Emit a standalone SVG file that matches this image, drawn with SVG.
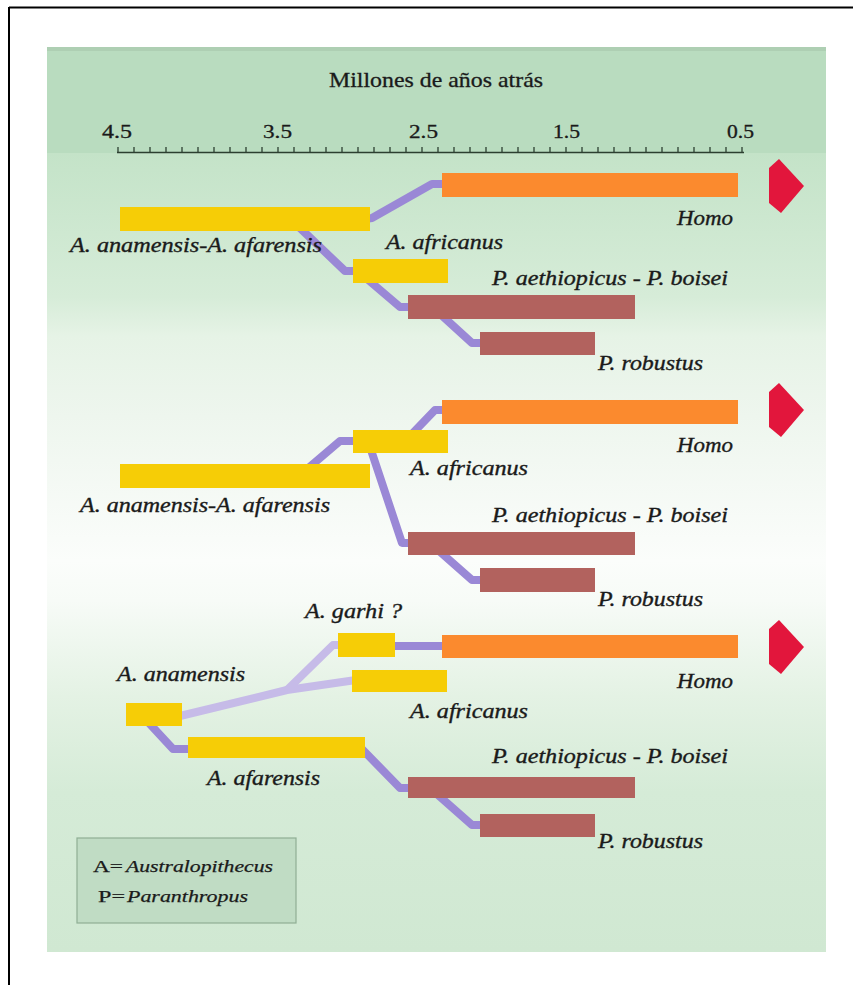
<svg xmlns="http://www.w3.org/2000/svg" width="853" height="985" viewBox="0 0 853 985">
<defs>
<linearGradient id="bodyGrad" gradientUnits="userSpaceOnUse" x1="0" y1="153" x2="0" y2="952">
<stop offset="0" stop-color="#c4e3c8"/>
<stop offset="0.18" stop-color="#d6ecd8"/>
<stop offset="0.23" stop-color="#e6f3e6"/>
<stop offset="0.33" stop-color="#eef6ee"/>
<stop offset="0.51" stop-color="#fbfdfb"/>
<stop offset="0.56" stop-color="#f7fbf7"/>
<stop offset="0.68" stop-color="#e4f2e4"/>
<stop offset="0.8" stop-color="#d5ebd7"/>
<stop offset="1" stop-color="#d0e8d2"/>
</linearGradient>
</defs>
<style>
.lbl{font-family:"Liberation Serif","Times New Roman",serif;font-style:italic;font-size:20px;fill:#1a1a1a;stroke:#1a1a1a;stroke-width:0.35px;}
.ax{font-family:"Liberation Serif","Times New Roman",serif;font-size:18px;fill:#1a1a1a;stroke:#1a1a1a;stroke-width:0.3px;}
.leg{font-family:"Liberation Serif","Times New Roman",serif;font-size:17px;fill:#1a1a1a;stroke:#1a1a1a;stroke-width:0.25px;}
.yel{fill:#f6cd06;}
.ora{fill:#fb8a2e;}
.bro{fill:#b2625e;}
.arr{fill:#e2163c;}
.con{fill:none;stroke:#9a88d6;stroke-width:8;stroke-linejoin:round;}
.conl{fill:none;stroke:#c6bbe8;stroke-width:8;stroke-linejoin:round;}
</style>
<rect x="0" y="0" width="853" height="985" fill="#ffffff"/>
<line x1="9" y1="7.5" x2="853" y2="7.5" stroke="#000" stroke-width="2"/>
<line x1="9" y1="7" x2="9" y2="985" stroke="#000" stroke-width="2"/>
<rect x="47" y="153" width="779" height="799" fill="url(#bodyGrad)"/>
<rect x="47" y="47" width="779" height="106" fill="#b9dcbf"/>
<rect x="47" y="47" width="779" height="4" fill="#aecfb3"/>

<g id="axis">
<text x="329" y="87" class="ax" style="font-size:21px" textLength="214" lengthAdjust="spacingAndGlyphs">Millones de años atrás</text>
<text x="102" y="138" class="ax" textLength="30" lengthAdjust="spacingAndGlyphs">4.5</text>
<text x="263" y="138" class="ax" textLength="29" lengthAdjust="spacingAndGlyphs">3.5</text>
<text x="409" y="138" class="ax" textLength="29" lengthAdjust="spacingAndGlyphs">2.5</text>
<text x="553" y="138" class="ax" textLength="27" lengthAdjust="spacingAndGlyphs">1.5</text>
<text x="727" y="138" class="ax" textLength="27" lengthAdjust="spacingAndGlyphs">0.5</text>
<line x1="117" y1="152.5" x2="744" y2="152.5" stroke="#2c3f30" stroke-width="1.5"/>
<path d="M118,147v5M134,147v5M150,147v5M166,147v5M182,147v5M198,147v5M214,147v5M230,147v5M246,147v5M262,147v5M278,147v5M294,147v5M310,147v5M326,147v5M342,147v5M358,147v5M374,147v5M390,147v5M406,147v5M422,147v5M438,147v5M454,147v5M470,147v5M486,147v5M502,147v5M518,147v5M534,147v5M550,147v5M566,147v5M582,147v5M598,147v5M614,147v5M630,147v5M646,147v5M662,147v5M678,147v5M694,147v5M710,147v5M726,147v5M742,147v5" stroke="#2c3f30" stroke-width="1.3"/>
</g>

<g id="connectors">
<path class="con" d="M365,219 L372,218 L432,184 L446,184"/>
<path class="con" d="M300,228 L345,271 L357,271"/>
<path class="con" d="M366,278 L400,307 L412,307"/>
<path class="con" d="M438,312 L472,343 L484,343"/>
<path class="con" d="M306,470 L340,441 L357,441"/>
<path class="con" d="M410,436 L435,410 L446,410"/>
<path class="con" d="M370,447 L402,543 L412,543"/>
<path class="con" d="M438,550 L472,580 L484,580"/>
<path class="conl" d="M180,716 L287,690 L356,680"/>
<path class="conl" d="M287,690 L333,645 L342,645"/>
<path class="con" d="M390,646 L446,646"/>
<path class="con" d="M148,722 L173,749 L192,749"/>
<path class="con" d="M360,747 L400,788 L412,788"/>
<path class="con" d="M438,795 L472,825 L484,825"/>
</g>

<g id="p1-afarensis">
<rect class="yel" x="120" y="207" width="250" height="24"/>
<text class="lbl" x="70" y="252" textLength="252" lengthAdjust="spacingAndGlyphs">A. anamensis-A. afarensis</text>
</g>
<g id="p1-homo">
<rect class="ora" x="442" y="173" width="296" height="24"/>
<text class="lbl" x="677" y="225" textLength="56" lengthAdjust="spacingAndGlyphs">Homo</text>
</g>
<g id="p1-africanus">
<rect class="yel" x="353" y="259" width="95" height="24"/>
<text class="lbl" x="386" y="249" textLength="117" lengthAdjust="spacingAndGlyphs">A. africanus</text>
</g>
<g id="p1-aethiopicus">
<rect class="bro" x="408" y="295" width="227" height="24"/>
<text class="lbl" x="492" y="285" textLength="236" lengthAdjust="spacingAndGlyphs">P. aethiopicus - P. boisei</text>
</g>
<g id="p1-robustus">
<rect class="bro" x="480" y="332" width="115" height="23"/>
<text class="lbl" x="598" y="370" textLength="105" lengthAdjust="spacingAndGlyphs">P. robustus</text>
</g>
<g id="p1-arrow"><polygon class="arr" points="769,168 779,159 804,186 781,213 769,203"/></g>

<g id="p2-afarensis">
<rect class="yel" x="120" y="464" width="250" height="24"/>
<text class="lbl" x="80" y="512" textLength="250" lengthAdjust="spacingAndGlyphs">A. anamensis-A. afarensis</text>
</g>
<g id="p2-africanus">
<rect class="yel" x="353" y="430" width="95" height="23"/>
<text class="lbl" x="410" y="475" textLength="118" lengthAdjust="spacingAndGlyphs">A. africanus</text>
</g>
<g id="p2-homo">
<rect class="ora" x="442" y="400" width="296" height="24"/>
<text class="lbl" x="677" y="452" textLength="56" lengthAdjust="spacingAndGlyphs">Homo</text>
</g>
<g id="p2-aethiopicus">
<rect class="bro" x="408" y="532" width="227" height="23"/>
<text class="lbl" x="492" y="522" textLength="236" lengthAdjust="spacingAndGlyphs">P. aethiopicus - P. boisei</text>
</g>
<g id="p2-robustus">
<rect class="bro" x="480" y="568" width="115" height="24"/>
<text class="lbl" x="598" y="606" textLength="105" lengthAdjust="spacingAndGlyphs">P. robustus</text>
</g>
<g id="p2-arrow"><polygon class="arr" points="769,392 779,383 804,410 781,437 769,427"/></g>

<g id="p3-anamensis">
<rect class="yel" x="126" y="703" width="56" height="23"/>
<text class="lbl" x="117" y="681" textLength="128" lengthAdjust="spacingAndGlyphs">A. anamensis</text>
</g>
<g id="p3-garhi">
<rect class="yel" x="338" y="633" width="57" height="24"/>
<text class="lbl" x="305" y="618" textLength="97" lengthAdjust="spacingAndGlyphs">A. garhi ?</text>
</g>
<g id="p3-africanus">
<rect class="yel" x="352" y="670" width="95" height="22"/>
<text class="lbl" x="410" y="718" textLength="118" lengthAdjust="spacingAndGlyphs">A. africanus</text>
</g>
<g id="p3-homo">
<rect class="ora" x="442" y="635" width="296" height="23"/>
<text class="lbl" x="677" y="688" textLength="56" lengthAdjust="spacingAndGlyphs">Homo</text>
</g>
<g id="p3-afarensis">
<rect class="yel" x="188" y="737" width="177" height="21"/>
<text class="lbl" x="207" y="785" textLength="113" lengthAdjust="spacingAndGlyphs">A. afarensis</text>
</g>
<g id="p3-aethiopicus">
<rect class="bro" x="408" y="777" width="227" height="21"/>
<text class="lbl" x="492" y="763" textLength="236" lengthAdjust="spacingAndGlyphs">P. aethiopicus - P. boisei</text>
</g>
<g id="p3-robustus">
<rect class="bro" x="480" y="814" width="115" height="23"/>
<text class="lbl" x="598" y="848" textLength="105" lengthAdjust="spacingAndGlyphs">P. robustus</text>
</g>
<g id="p3-arrow"><polygon class="arr" points="769,629 779,620 804,647 781,674 769,664"/></g>

<g id="legend">
<rect x="77" y="838" width="219" height="85" fill="#c0dcc4" stroke="#8fae94" stroke-width="1.2"/>
<text class="leg" x="93" y="872" textLength="30" lengthAdjust="spacingAndGlyphs">A=</text>
<text class="leg" x="126" y="872" font-style="italic" textLength="147" lengthAdjust="spacingAndGlyphs">Australopithecus</text>
<text class="leg" x="98" y="902" textLength="27" lengthAdjust="spacingAndGlyphs">P=</text>
<text class="leg" x="127" y="902" font-style="italic" textLength="121" lengthAdjust="spacingAndGlyphs">Paranthropus</text>
</g>
</svg>
